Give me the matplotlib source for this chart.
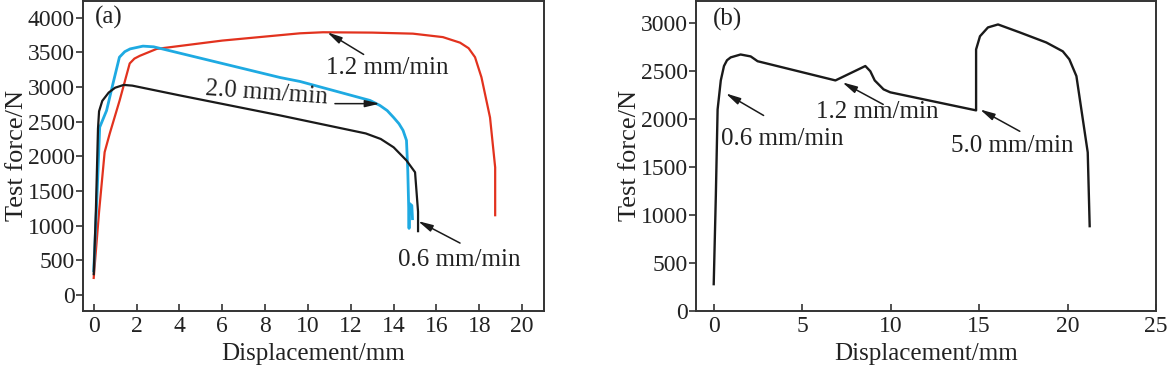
import matplotlib.pyplot as plt

plt.rcParams['font.family'] = ['Liberation Serif', 'DejaVu Serif']

# (a) three loading rates
x06 = [0.0, 0.1, 0.2, 0.25, 0.4, 0.7, 1.0, 1.4, 1.8, 4.0, 8.7, 12.7, 13.4, 14.0, 14.6, 15.0, 15.14, 15.14]
y06 = [300, 1200, 2400, 2650, 2800, 2920, 2990, 3030, 3020, 2880, 2590, 2330, 2250, 2130, 1940, 1770, 1200, 920]

x12 = [0.0, 0.25, 0.51, 0.75, 1.21, 1.68, 1.9, 2.15, 2.94, 6.0, 9.63, 10.7, 13.0, 14.9, 16.3, 17.1, 17.5, 17.8, 18.1, 18.5, 18.74, 18.74]
y12 = [245, 1200, 2060, 2330, 2806, 3340, 3410, 3450, 3550, 3670, 3775, 3790, 3785, 3770, 3720, 3640, 3560, 3430, 3140, 2560, 1840, 1150]

x20 = [0.0, 0.15, 0.28, 0.6, 0.9, 1.2, 1.45, 1.7, 2.3, 2.8, 8.7, 9.63, 12.9, 13.36, 13.7, 14.0, 14.25, 14.44, 14.6, 14.66, 14.7, 14.72, 14.74, 14.85, 14.88]
y20 = [350, 1400, 2420, 2660, 3050, 3430, 3510, 3550, 3590, 3580, 3137, 3080, 2806, 2734, 2660, 2560, 2470, 2374, 2230, 1800, 1300, 960, 1320, 1290, 1100]

# (b) stepped rate test
xb = [0.0, 0.12, 0.22, 0.4, 0.58, 0.75, 0.96, 1.52, 2.09, 2.48, 6.88, 8.57, 8.85, 9.1, 9.6, 9.98, 14.83, 14.83, 15.05, 15.5, 16.07, 17.3, 18.8, 19.73, 20.1, 20.5, 21.14, 21.25]
yb = [278, 1200, 2098, 2400, 2550, 2610, 2640, 2670, 2650, 2600, 2400, 2550, 2496, 2400, 2307, 2276, 2088, 2723, 2860, 2952, 2983, 2900, 2795, 2703, 2620, 2445, 1650, 882]

fig = plt.figure(figsize=(11.69, 3.67), dpi=100)
ax1 = fig.add_axes([0.071, 0.153, 0.394, 0.845])
ax2 = fig.add_axes([0.5954, 0.153, 0.3935, 0.845])

ax1.plot(x12, y12, color='#e2321e', lw=1.6)
ax1.plot(x20, y20, color='#1eaae2', lw=2.0)
ax1.plot(x06, y06, color='#1a1a1a', lw=1.6)
ax2.plot(xb, yb, color='#1a1a1a', lw=1.7)

ax1.set_xlim(-0.5, 21)
ax1.set_ylim(-230, 4245)
ax1.set_xticks(range(0, 21, 2))
ax1.set_yticks(range(0, 4001, 500))
ax2.set_xlim(-1, 25)
ax2.set_ylim(0, 3230)
ax2.set_xticks(range(0, 26, 5))
ax2.set_yticks(range(0, 3001, 500))

fs = 18
tc = '#222222'
arr = dict(arrowstyle='-|>,head_width=0.13,head_length=0.55', color='#1a1a1a', lw=1.1,
           shrinkA=0, shrinkB=0, mutation_scale=16)
for ax in (ax1, ax2):
    ax.tick_params(axis='x', direction='in', length=5, width=1.2, labelsize=17, pad=3.5, colors='#333333', labelcolor=tc)
    ax.tick_params(axis='y', direction='out', length=5, width=1.2, labelsize=17, pad=1, colors='#333333', labelcolor=tc)
    for s in ax.spines.values():
        s.set_linewidth(1.4)
        s.set_color('#333333')
    ax.set_xlabel('Displacement/mm', fontsize=18, color=tc)
    ax.xaxis.set_label_coords(0.5, -0.104)
    ax.set_ylabel('Test force/N', fontsize=19, labelpad=0, color=tc)

ax1.text(0.05, 4000, '(a)', fontsize=fs, va='center', ha='left', color=tc)
ax1.text(13.7, 3280, '1.2 mm/min', fontsize=fs, ha='center', va='center', color=tc)
ax1.annotate('', xy=(10.9, 3790), xytext=(12.6, 3470), arrowprops=arr)
ax1.text(8.05, 2915, '2.0 mm/min', fontsize=fs, ha='center', va='center', rotation=-4, color=tc)
ax1.annotate('', xy=(13.36, 2760), xytext=(11.26, 2760), arrowprops=arr)
ax1.text(17.06, 504, '0.6 mm/min', fontsize=fs, ha='center', va='center', color=tc)
ax1.annotate('', xy=(15.14, 1065), xytext=(17.1, 748), arrowprops=arr)

ax2.text(-0.05, 3035, '(b)', fontsize=fs, va='center', ha='left', color=tc)
ax2.text(3.9, 1790, '0.6 mm/min', fontsize=fs, ha='center', va='center', color=tc)
ax2.annotate('', xy=(0.68, 2265), xytext=(2.82, 2035), arrowprops=arr)
ax2.text(9.25, 2066, '1.2 mm/min', fontsize=fs, ha='center', va='center', color=tc)
ax2.annotate('', xy=(7.27, 2380), xytext=(9.58, 2150), arrowprops=arr)
ax2.text(16.87, 1715, '5.0 mm/min', fontsize=fs, ha='center', va='center', color=tc)
ax2.annotate('', xy=(15.05, 2098), xytext=(17.3, 1870), arrowprops=arr)

fig.savefig('out.png', dpi=100)
